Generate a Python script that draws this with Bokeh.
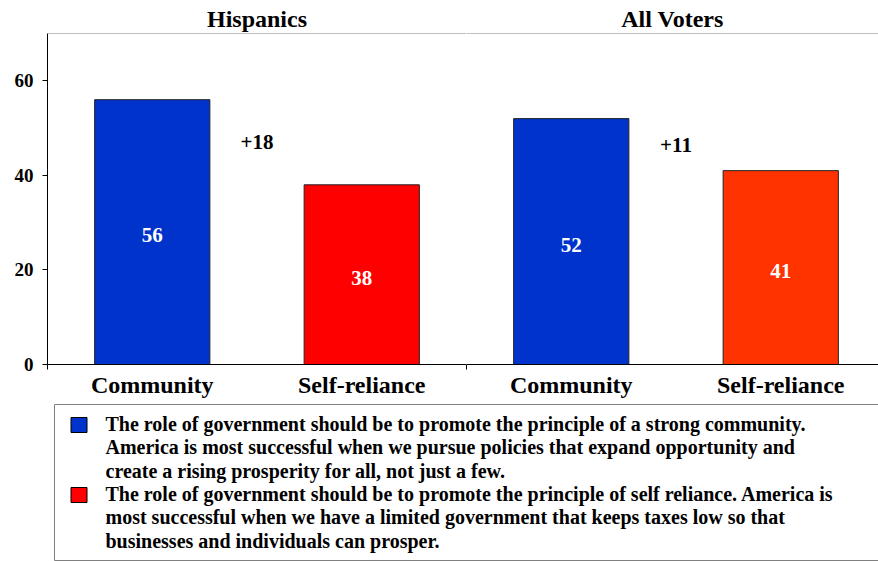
from bokeh.plotting import figure
from bokeh.models import Range1d, FixedTicker, Span, ColumnDataSource
from bokeh.layouts import column, row
from bokeh.embed import file_html
from bokeh.resources import INLINE
from bokeh.core.properties import value

# ---- data ----
groups = ["Hispanics", "All Voters"]
categories = ["Community", "Self-reliance"]
hispanics = [56, 38]
all_voters = [52, 41]
y_ticks = [0, 20, 40, 60]
bar_colors = [["#0033CC", "#FF0000"], ["#0033CC", "#FF3300"]]
legend_community = [
    "The role of government should be to promote the principle of a strong community.",
    "America is most successful when we pursue policies that expand opportunity and",
    "create a rising prosperity for all, not just a few.",
]
legend_self = [
    "The role of government should be to promote the principle of self reliance.  America is",
    "most successful when we have a limited government that keeps taxes low so that",
    "businesses and individuals can prosper.",
]
legend_colors = ["#0033CC", "#FF0000"]

FONT = "'Liberation Serif', 'Times New Roman', serif"
TOTAL_W, TOTAL_H = 878, 561
LEFT, DIVIDER, TOP, BOTTOM_AX = 47, 466, 33, 364
TOP_H = 400
YMAX = 70
BAR_W = 0.55


def panel(title, vals, colors, width, left_border, xend, show_y, minor):
    p = figure(width=width, height=TOP_H, x_range=Range1d(0, xend),
               y_range=Range1d(0, YMAX), output_backend="svg",
               toolbar_location=None, min_border_left=left_border,
               min_border_right=0, min_border_top=TOP,
               min_border_bottom=TOP_H - BOTTOM_AX,
               y_axis_location="left" if show_y else None,
               background_fill_color="white", border_fill_color="white")
    p.outline_line_color = None
    p.grid.visible = False
    p.title.text = title
    p.title.align = "center"
    p.title.text_font = FONT
    p.title.text_font_style = "bold"
    p.title.text_font_size = "24px"
    p.title.text_color = "black"
    p.title.standoff = 4

    xs = [i + 0.5 for i in range(len(categories))]
    src = ColumnDataSource(dict(x=xs, top=vals, color=colors,
                                mid=[v / 2 for v in vals],
                                lbl=[str(v) for v in vals]))
    p.vbar(x="x", top="top", width=BAR_W, bottom=0, fill_color="color",
           line_color="#222222", line_width=1, source=src)
    p.text(x="x", y="mid", text="lbl", source=src, text_color="white",
           text_font=value(FONT), text_font_style="bold",
           text_font_size="21px", text_align="center",
           text_baseline="middle", y_offset=3)
    diff = vals[0] - vals[1]
    p.text(x=[sum(xs) / 2], y=[sum(vals) / 2], text=["+%d" % diff],
           text_color="black", text_font=value(FONT),
           text_font_style="bold", text_font_size="21px",
           text_align="center", text_baseline="middle")

    xa = p.xaxis[0]
    xa.ticker = FixedTicker(ticks=xs, minor_ticks=minor)
    xa.major_label_overrides = {x: c for x, c in zip(xs, categories)}
    xa.major_tick_line_color = None
    xa.minor_tick_line_color = "black"
    xa.minor_tick_out = 5
    xa.minor_tick_in = 0
    xa.axis_line_color = "black"
    xa.major_label_text_font = FONT
    xa.major_label_text_font_style = "bold"
    xa.major_label_text_font_size = "24px"
    xa.major_label_text_color = "black"
    xa.major_label_standoff = 1

    if show_y:
        ya = p.yaxis[0]
        ya.ticker = FixedTicker(ticks=y_ticks)
        ya.axis_line_color = "black"
        ya.major_tick_line_color = "black"
        ya.major_tick_out = 5
        ya.major_tick_in = 0
        ya.minor_tick_line_color = None
        ya.major_label_text_font = FONT
        ya.major_label_text_font_style = "bold"
        ya.major_label_text_font_size = "19px"
        ya.major_label_text_color = "black"
        ya.major_label_standoff = 9

    p.add_layout(Span(location=YMAX, dimension="width",
                      line_color="#808080", line_width=1))
    return p


x1 = 2.0
x2 = 2.0 * (TOTAL_W - DIVIDER) / (DIVIDER - LEFT)
p1 = panel(groups[0], hispanics, bar_colors[0], DIVIDER, LEFT, x1, True, [0, 2])
p1.add_layout(Span(location=x1, dimension="height", line_color="black",
                   line_width=1))
p2 = panel(groups[1], all_voters, bar_colors[1], TOTAL_W - DIVIDER, 0, x2,
           False, [0])

# ---- legend panel ----
LH = TOTAL_H - TOP_H
pl = figure(width=TOTAL_W, height=LH, x_range=Range1d(0, TOTAL_W),
            y_range=Range1d(LH, 0), output_backend="svg",
            toolbar_location=None, min_border=0, x_axis_location=None,
            y_axis_location=None)
pl.outline_line_color = None
pl.grid.visible = False
pl.quad(left=[54], right=[TOTAL_W + 5], top=[4], bottom=[LH - 1],
        fill_color=None, line_color="#808080", line_width=1)
blocks = [legend_community, legend_self]
for bi, (lines, col) in enumerate(zip(blocks, legend_colors)):
    y0 = 23 + bi * 70
    pl.rect(x=[78.5], y=[y0 + 1.5], width=16, height=15, fill_color=col,
            line_color="black", line_width=1)
    pl.text(x=[105] * len(lines), y=[y0 + 23.5 * i for i in range(len(lines))],
            text=lines, text_color="black", text_font=value(FONT),
            text_font_style="bold", text_font_size="20px",
            text_align="left", text_baseline="middle")

layout = column(row(p1, p2, spacing=0), pl, spacing=0)
open("out.html", "w").write(file_html(layout, INLINE))
